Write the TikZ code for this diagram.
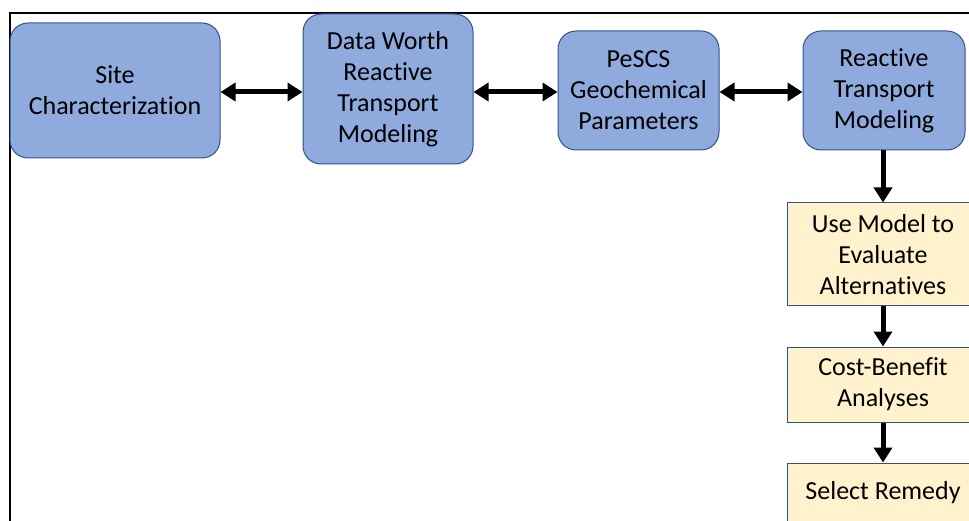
\documentclass[tikz,border=0pt]{standalone}
\usepackage{fontspec}
\setmainfont{Carlito}[Ligatures=NoCommon]
\usetikzlibrary{arrows.meta}
\definecolor{boxblue}{HTML}{8FAADC}
\definecolor{boxedge}{HTML}{2F528F}
\definecolor{boxyellow}{HTML}{FFF2CC}
\tikzset{
  bluebox/.style={draw=boxedge, fill=boxblue, line width=1pt, rounded corners=18pt,
    align=center, inner sep=0pt, font=\fontsize{26}{31}\selectfont},
  yellowbox/.style={draw=boxedge, fill=boxyellow, line width=1pt,
    align=center, inner sep=0pt, minimum width=192pt, font=\fontsize{26}{31}\selectfont},
  link/.style={line width=5pt, {Triangle[length=15pt,width=18pt]}-{Triangle[length=15pt,width=18pt]}},
  flow/.style={line width=5pt, -{Triangle[length=15pt,width=18pt]}}
}

\begin{document}
\begin{tikzpicture}[x=1pt,y=-1pt]
            \useasboundingbox (0,0) rectangle (969,521);
            \clip (0,0) rectangle (969,521);
            \draw[line width=2pt] (969,13)--(9.5,13)--(9.5,521);

            % top row
            \node[bluebox, minimum width=210pt, minimum height=135pt] (site) at (115,90.5) {Site\\Characterization};
            \node[bluebox, minimum width=170pt, minimum height=150pt] (worth) at (388,89) {Data Worth\\Reactive\\Transport\\Modeling};
            \node[bluebox, minimum width=161pt, minimum height=119pt] (pescs) at (638.5,90.5) {PeSCS\\Geochemical\\Parameters};
            \node[bluebox, minimum width=162pt, minimum height=119pt] (rtm) at (884,90.5) {Reactive\\Transport\\Modeling};

            % right column
            \node[yellowbox, minimum height=103pt] (alt) at (883,254.5) {Use Model to\\Evaluate\\Alternatives};
            \node[yellowbox, minimum height=75pt] (cba) at (883,384.5) {Cost-Benefit\\Analyses};
            \node[yellowbox, minimum height=60pt] (remedy) at (883,493) {Select Remedy};

            \draw[link] (site.east |- 0,92)--(worth.west |- 0,92);
            \draw[link] (worth.east |- 0,92)--(pescs.west |- 0,92);
            \draw[link] (pescs.east |- 0,92)--(rtm.west |- 0,92);
            \draw[flow] (rtm.south -| 883,0)--(alt.north);
            \draw[flow] (alt)--(cba);
            \draw[flow] (cba)--(remedy);
        \end{tikzpicture}
\end{document}
